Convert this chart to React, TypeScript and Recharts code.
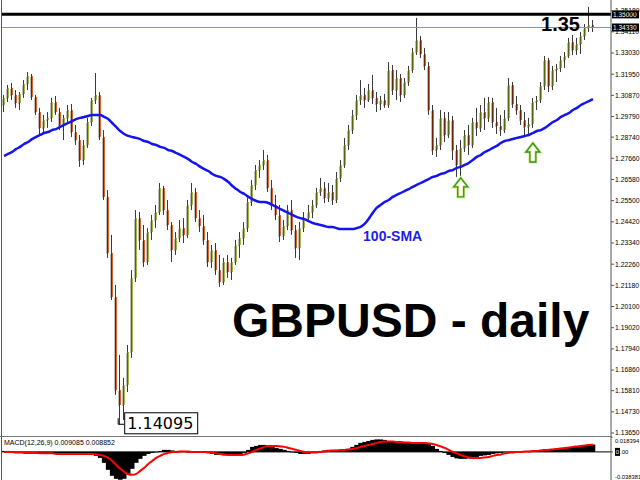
import { ComposedChart, Bar, Line, XAxis, YAxis, ReferenceLine, ReferenceDot } from 'recharts';

// GBPUSD daily candles
const opens = [
  1.3038, 1.3074, 1.3125, 1.3089, 1.3048, 1.3094, 1.3145, 1.3186, 1.3079, 1.3002,
  1.2921, 1.2961, 1.2972, 1.3053, 1.3002, 1.2936, 1.2972, 1.3012, 1.2900, 1.2859,
  1.2757, 1.2834, 1.2951, 1.3063, 1.3089, 1.2875, 1.2569, 1.2283, 1.2059, 1.1584,
  1.1508, 1.1610, 1.1778, 1.2156, 1.2461, 1.2349, 1.2237, 1.2390, 1.2451, 1.2492,
  1.2615, 1.2502, 1.2426, 1.2298, 1.2360, 1.2410, 1.2375, 1.2528, 1.2594, 1.2461,
  1.2421, 1.2349, 1.2237, 1.2298, 1.2196, 1.2135, 1.2237, 1.2186, 1.2237, 1.2324,
  1.2360, 1.2410, 1.2543, 1.2630, 1.2706, 1.2732, 1.2757, 1.2615, 1.2528, 1.2477,
  1.2370, 1.2421, 1.2502, 1.2400, 1.2309, 1.2410, 1.2461, 1.2492, 1.2528, 1.2594,
  1.2615, 1.2564, 1.2594, 1.2553, 1.2666, 1.2732, 1.2834, 1.2910, 1.2987, 1.3063,
  1.3089, 1.3063, 1.3114, 1.3074, 1.3043, 1.3063, 1.3038, 1.3216, 1.3114, 1.3176,
  1.3089, 1.3155, 1.3216, 1.3308, 1.3369, 1.3298, 1.3237, 1.3012, 1.2808, 1.2834,
  1.2972, 1.2885, 1.2961, 1.2808, 1.2732, 1.2819, 1.2885, 1.2834, 1.2951, 1.2921,
  1.3002, 1.2972, 1.3053, 1.2951, 1.2931, 1.2910, 1.2972, 1.3140, 1.3043, 1.3012,
  1.2961, 1.2926, 1.2941, 1.3053, 1.3063, 1.3135, 1.3267, 1.3135, 1.3216, 1.3227,
  1.3267, 1.3288, 1.3359, 1.3318, 1.3349, 1.3390, 1.3431, 1.3446,
];
const highs = [
  1.3089, 1.3140, 1.3150, 1.3114, 1.3104, 1.3165, 1.3206, 1.3196, 1.3089, 1.3023,
  1.2987, 1.3002, 1.3074, 1.3084, 1.3023, 1.2987, 1.3038, 1.3043, 1.2936, 1.2885,
  1.2859, 1.2972, 1.3074, 1.3201, 1.3104, 1.2910, 1.2604, 1.2375, 1.2120, 1.1763,
  1.1646, 1.1814, 1.2196, 1.2502, 1.2492, 1.2426, 1.2410, 1.2477, 1.2528, 1.2640,
  1.2625, 1.2553, 1.2441, 1.2390, 1.2451, 1.2461, 1.2553, 1.2640, 1.2615, 1.2502,
  1.2477, 1.2390, 1.2324, 1.2334, 1.2273, 1.2258, 1.2273, 1.2258, 1.2349, 1.2390,
  1.2441, 1.2564, 1.2655, 1.2732, 1.2757, 1.2808, 1.2783, 1.2655, 1.2579, 1.2528,
  1.2451, 1.2528, 1.2553, 1.2426, 1.2441, 1.2492, 1.2528, 1.2553, 1.2615, 1.2666,
  1.2645, 1.2640, 1.2630, 1.2696, 1.2757, 1.2870, 1.2936, 1.3012, 1.3089, 1.3165,
  1.3125, 1.3145, 1.3191, 1.3104, 1.3084, 1.3094, 1.3257, 1.3242, 1.3216, 1.3196,
  1.3176, 1.3237, 1.3329, 1.3482, 1.3390, 1.3329, 1.3257, 1.3038, 1.2870, 1.3012,
  1.3002, 1.3002, 1.2982, 1.2834, 1.2859, 1.2910, 1.2936, 1.2972, 1.3023, 1.3038,
  1.3074, 1.3079, 1.3074, 1.3023, 1.2987, 1.3012, 1.3176, 1.3155, 1.3084, 1.3038,
  1.3002, 1.2972, 1.3074, 1.3084, 1.3155, 1.3288, 1.3278, 1.3237, 1.3247, 1.3288,
  1.3308, 1.3380, 1.3395, 1.3380, 1.3410, 1.3451, 1.3538, 1.3471,
];
const lows = [
  1.3002, 1.3053, 1.3063, 1.3023, 1.3012, 1.3074, 1.3114, 1.3063, 1.2987, 1.2885,
  1.2900, 1.2921, 1.2951, 1.2987, 1.2910, 1.2859, 1.2951, 1.2875, 1.2834, 1.2722,
  1.2732, 1.2819, 1.2931, 1.3043, 1.2859, 1.2553, 1.2258, 1.2043, 1.1559, 1.14095,
  1.1431, 1.1574, 1.1748, 1.2135, 1.2298, 1.2212, 1.2222, 1.2349, 1.2410, 1.2477,
  1.2477, 1.2400, 1.2237, 1.2273, 1.2339, 1.2334, 1.2360, 1.2502, 1.2441, 1.2390,
  1.2324, 1.2212, 1.2207, 1.2171, 1.2110, 1.2120, 1.2156, 1.2145, 1.2222, 1.2258,
  1.2324, 1.2390, 1.2523, 1.2604, 1.2666, 1.2706, 1.2594, 1.2502, 1.2451, 1.2339,
  1.2349, 1.2400, 1.2375, 1.2258, 1.2247, 1.2390, 1.2441, 1.2461, 1.2513, 1.2574,
  1.2538, 1.2543, 1.2528, 1.2538, 1.2645, 1.2717, 1.2808, 1.2890, 1.2961, 1.3038,
  1.3023, 1.3053, 1.3043, 1.3002, 1.3012, 1.3023, 1.3023, 1.3089, 1.3063, 1.3053,
  1.3074, 1.3135, 1.3201, 1.3293, 1.3278, 1.3216, 1.2987, 1.2783, 1.2773, 1.2808,
  1.2849, 1.2870, 1.2757, 1.2671, 1.2666, 1.2798, 1.2783, 1.2819, 1.2880, 1.2900,
  1.2910, 1.2951, 1.2921, 1.2890, 1.2880, 1.2895, 1.2956, 1.3023, 1.2987, 1.2936,
  1.2875, 1.2885, 1.2921, 1.3012, 1.3048, 1.3114, 1.3104, 1.3114, 1.3155, 1.3206,
  1.3227, 1.3278, 1.3293, 1.3293, 1.3298, 1.3369, 1.3410, 1.3410,
];
const closes = [
  1.3074, 1.3125, 1.3089, 1.3048, 1.3094, 1.3145, 1.3186, 1.3079, 1.3002, 1.2921,
  1.2961, 1.2972, 1.3053, 1.3002, 1.2936, 1.2972, 1.3012, 1.2900, 1.2859, 1.2757,
  1.2834, 1.2951, 1.3063, 1.3089, 1.2875, 1.2569, 1.2283, 1.2059, 1.1584, 1.1508,
  1.1610, 1.1778, 1.2156, 1.2461, 1.2349, 1.2237, 1.2390, 1.2451, 1.2492, 1.2615,
  1.2502, 1.2426, 1.2298, 1.2360, 1.2410, 1.2375, 1.2528, 1.2594, 1.2461, 1.2421,
  1.2349, 1.2237, 1.2298, 1.2196, 1.2135, 1.2237, 1.2186, 1.2237, 1.2324, 1.2360,
  1.2410, 1.2543, 1.2630, 1.2706, 1.2732, 1.2757, 1.2615, 1.2528, 1.2477, 1.2370,
  1.2421, 1.2502, 1.2400, 1.2309, 1.2410, 1.2461, 1.2492, 1.2528, 1.2594, 1.2615,
  1.2564, 1.2594, 1.2553, 1.2666, 1.2732, 1.2834, 1.2910, 1.2987, 1.3063, 1.3089,
  1.3063, 1.3114, 1.3074, 1.3043, 1.3063, 1.3038, 1.3216, 1.3114, 1.3176, 1.3089,
  1.3155, 1.3216, 1.3308, 1.3369, 1.3298, 1.3237, 1.3012, 1.2808, 1.2834, 1.2972,
  1.2885, 1.2961, 1.2808, 1.2732, 1.2819, 1.2885, 1.2834, 1.2951, 1.2921, 1.3002,
  1.2972, 1.3053, 1.2951, 1.2931, 1.2910, 1.2972, 1.3140, 1.3043, 1.3012, 1.2961,
  1.2926, 1.2941, 1.3053, 1.3063, 1.3135, 1.3267, 1.3135, 1.3216, 1.3227, 1.3267,
  1.3288, 1.3359, 1.3318, 1.3349, 1.3390, 1.3431, 1.3446, 1.3433,
];
const sma100 = [
  1.2778, 1.2788, 1.2798, 1.2813, 1.2824, 1.2839, 1.2849, 1.2864, 1.2875, 1.2885,
  1.2895, 1.2900, 1.2910, 1.2915, 1.2926, 1.2936, 1.2946, 1.2956, 1.2966, 1.2972,
  1.2977, 1.2982, 1.2987, 1.2987, 1.2987, 1.2977, 1.2966, 1.2946, 1.2926, 1.2905,
  1.2890, 1.2880, 1.2875, 1.2870, 1.2864, 1.2854, 1.2849, 1.2839, 1.2834, 1.2824,
  1.2819, 1.2808, 1.2803, 1.2793, 1.2783, 1.2773, 1.2762, 1.2747, 1.2737, 1.2722,
  1.2711, 1.2701, 1.2686, 1.2676, 1.2671, 1.2660, 1.2645, 1.2625, 1.2609, 1.2594,
  1.2584, 1.2569, 1.2558, 1.2548, 1.2543, 1.2543, 1.2538, 1.2528, 1.2518, 1.2507,
  1.2497, 1.2487, 1.2477, 1.2467, 1.2461, 1.2456, 1.2446, 1.2436, 1.2431, 1.2426,
  1.2421, 1.2416, 1.2416, 1.2410, 1.2405, 1.2405, 1.2405, 1.2405, 1.2410, 1.2416,
  1.2431, 1.2456, 1.2487, 1.2513, 1.2528, 1.2543, 1.2553, 1.2569, 1.2579, 1.2589,
  1.2599, 1.2609, 1.2620, 1.2630, 1.2640, 1.2650, 1.2660, 1.2671, 1.2676, 1.2686,
  1.2691, 1.2701, 1.2706, 1.2717, 1.2722, 1.2732, 1.2742, 1.2757, 1.2773, 1.2783,
  1.2798, 1.2808, 1.2819, 1.2829, 1.2844, 1.2854, 1.2859, 1.2864, 1.2870, 1.2875,
  1.2880, 1.2885, 1.2895, 1.2905, 1.2910, 1.2921, 1.2936, 1.2951, 1.2961, 1.2977,
  1.2987, 1.2997, 1.3012, 1.3023, 1.3038, 1.3048, 1.3058, 1.3068,
];

// MACD(12,26,9): main (histogram) and signal
const macdMain = [
  0.0012, 0.0012, 0.0006, 0, -0.0006, -0.0012, -0.0012, -0.0018, -0.0018, -0.0025,
  -0.0025, -0.0025, -0.0025, -0.0025, -0.0025, -0.0025, -0.0025, -0.0025, -0.0025, -0.0025,
  -0.0031, -0.0031, -0.0037, -0.0049, -0.0074, -0.0135, -0.0221, -0.0295, -0.0332, -0.0344,
  -0.0332, -0.0271, -0.0209, -0.0135, -0.0086, -0.0049, -0.0025, -0.0012, 0, 0.0012,
  0.0025, 0.0025, 0.0018, 0.0012, 0.0012, 0.0006, 0, 0.0006, 0, 0,
  -0.0006, -0.0012, -0.0025, -0.0037, -0.0037, -0.0043, -0.0043, -0.0037, -0.0037, -0.0025,
  -0.0012, 0.0025, 0.0062, 0.0074, 0.0086, 0.0086, 0.0074, 0.0062, 0.0049, 0.0037,
  0.0025, 0.0012, 0, -0.0012, -0.0025, -0.0025, -0.0025, -0.0012, 0, 0.0012,
  0.0018, 0.0025, 0.0025, 0.0025, 0.0025, 0.0031, 0.0037, 0.0062, 0.0086, 0.0111,
  0.0123, 0.0135, 0.0148, 0.0154, 0.0154, 0.0148, 0.0135, 0.0123, 0.0123, 0.0111,
  0.0111, 0.0111, 0.0111, 0.0111, 0.0111, 0.0105, 0.0098, 0.0074, 0.0037, 0.0012,
  -0.0012, -0.0037, -0.0062, -0.0080, -0.0086, -0.0086, -0.0080, -0.0074, -0.0062, -0.0049,
  -0.0043, -0.0037, -0.0025, -0.0018, -0.0012, -0.0006, 0, 0, 0.0006, 0.0006,
  0.0006, 0.0012, 0.0012, 0.0018, 0.0025, 0.0031, 0.0037, 0.0037, 0.0043, 0.0049,
  0.0049, 0.0055, 0.0062, 0.0062, 0.0074, 0.0080, 0.0086, 0.0091,
];
const macdSignal = [
  0, 0, 0, -0.0006, -0.0006, -0.0012, -0.0012, -0.0012, -0.0012, -0.0018,
  -0.0018, -0.0018, -0.0018, -0.0025, -0.0025, -0.0025, -0.0025, -0.0025, -0.0025, -0.0025,
  -0.0025, -0.0025, -0.0025, -0.0031, -0.0037, -0.0049, -0.0074, -0.0111, -0.0160, -0.0209,
  -0.0246, -0.0277, -0.0283, -0.0271, -0.0234, -0.0197, -0.0148, -0.0111, -0.0074, -0.0049,
  -0.0025, -0.0012, 0, 0, 0.0006, 0.0006, 0.0006, 0, 0, 0,
  0, -0.0006, -0.0012, -0.0018, -0.0025, -0.0031, -0.0037, -0.0037, -0.0037, -0.0037,
  -0.0031, -0.0018, 0, 0.0025, 0.0043, 0.0062, 0.0074, 0.0074, 0.0074, 0.0068,
  0.0062, 0.0049, 0.0037, 0.0025, 0.0012, 0, -0.0006, -0.0006, -0.0006, 0,
  0.0006, 0.0012, 0.0018, 0.0018, 0.0025, 0.0025, 0.0031, 0.0037, 0.0049, 0.0062,
  0.0074, 0.0086, 0.0098, 0.0111, 0.0123, 0.0129, 0.0129, 0.0129, 0.0123, 0.0123,
  0.0117, 0.0117, 0.0111, 0.0111, 0.0111, 0.0111, 0.0105, 0.0098, 0.0086, 0.0068,
  0.0049, 0.0025, 0, -0.0018, -0.0037, -0.0055, -0.0068, -0.0074, -0.0074, -0.0074,
  -0.0068, -0.0062, -0.0049, -0.0037, -0.0031, -0.0018, -0.0012, -0.0006, 0, 0,
  0.0006, 0.0006, 0.0012, 0.0012, 0.0018, 0.0025, 0.0025, 0.0031, 0.0037, 0.0043,
  0.0049, 0.0055, 0.0062, 0.0068, 0.0074, 0.0080, 0.0086, 0.0089,
];

const priceTicks = [
  1.3518, 1.3411, 1.3303, 1.3195, 1.3087, 1.2979, 1.2874, 1.2766, 1.2658, 1.255, 1.2442,
  1.2334, 1.2226, 1.2118, 1.201, 1.1902, 1.1794, 1.1686, 1.1581, 1.1473, 1.1365,
];
const macdTicks = [0.018394, 0, -0.038381];

const resistance = 1.35;
const lastPrice = 1.3433;
const swingLowIdx = 29;
const swingLow = 1.14095;
const arrowIdx = [114, 132];
const arrowPrice = [1.2666, 1.2844];
const smaLabelIdx = 97;
const smaLabelPrice = 1.237;
const chartShift = 4; // empty slots right of last bar

const total = opens.length + chartShift;
const rows = Array.from({ length: total }, (_, i) =>
  i < opens.length
    ? { i, o: opens[i], h: highs[i], l: lows[i], c: closes[i], range: [lows[i], highs[i]], sma: sma100[i] }
    : { i }
);
const macdRows = Array.from({ length: total }, (_, i) =>
  i < macdMain.length ? { i, macd: macdMain[i], signal: macdSignal[i] } : { i }
);

const axisFont = "'Liberation Sans', Arial, sans-serif";

function Candle(props: any) {
  const { x, y, width, height, payload } = props;
  if (!payload || payload.o == null) return null;
  const top = Math.min(y, y + height);
  const h = Math.abs(height);
  const span = payload.h - payload.l || 1;
  const py = (p: number) => top + ((payload.h - p) / span) * h;
  const cx = Math.round(x + width / 2);
  const bull = payload.c >= payload.o;
  const yo = py(payload.o);
  const yc = py(payload.c);
  const bt = Math.min(yo, yc);
  const bh = Math.max(1, Math.abs(yo - yc));
  return (
    <g>
      <rect x={cx - 2} y={bt + 1} width={1} height={bh} fill="#bdbdbd" />
      <line x1={cx - 0.5} x2={cx - 0.5} y1={top} y2={top + h} stroke="#3a3a3a" strokeWidth={1} />
      <rect x={cx - 1} y={bt} width={1} height={bh} fill={bull ? '#56650f' : '#6a2208'} />
      <rect x={cx} y={bt} width={1} height={bh} fill={bull ? '#a3b443' : '#d9642b'} />
    </g>
  );
}

// solid MT4-style histogram column, widened so neighbours touch
function HistBar(props: any) {
  const { x, y, width, height } = props;
  if (height == null || isNaN(height)) return null;
  const cx = x + width / 2;
  const top = Math.min(y, y + height);
  return <rect x={cx - 2.3} y={top} width={4.6} height={Math.max(Math.abs(height), 0.5)} fill="#000" />;
}

function ResistanceTag(props: any) {
  const { x, y, width } = props.viewBox;
  const right = x + width;
  return (
    <g>
      <text x={right - 31} y={y + 17} textAnchor="end" fontFamily={axisFont} fontWeight="bold" fontSize={20} fill="#000">
        1.35
      </text>
      <rect x={right + 1} y={y - 4} width={27} height={8} fill="#000" />
      <text x={right + 2} y={y + 2.5} fontFamily={axisFont} fontSize={6.5} fill="#fff">1.35000</text>
    </g>
  );
}

function BidTag(props: any) {
  const { x, y, width } = props.viewBox;
  const right = x + width;
  return (
    <g>
      <rect x={right + 1} y={y - 4} width={27} height={8} fill="#000" />
      <text x={right + 2} y={y + 2.5} fontFamily={axisFont} fontSize={6.5} fill="#fff">1.34330</text>
    </g>
  );
}

function LowTag(props: any) {
  const { cx, cy } = props;
  return (
    <g>
      <polyline points={`${cx - 2},${cy - 6} ${cx - 2},${cy} ${cx + 4},${cy}`} fill="none" stroke="#000" strokeWidth={1} />
      <rect x={cx + 4.5} y={cy - 11.5} width={73} height={21} fill="#fff" stroke="#000" strokeWidth={1} />
      <text x={cx + 7} y={cy + 5} fontFamily="'DejaVu Sans', sans-serif" fontSize={16} fill="#000">1.14095</text>
    </g>
  );
}

function UpArrow(props: any) {
  const { cx, cy } = props;
  const d = `M${cx},${cy} L${cx + 7},${cy + 9} L${cx + 3},${cy + 9} L${cx + 3},${cy + 19} L${cx - 3},${cy + 19} L${cx - 3},${cy + 9} L${cx - 7},${cy + 9} Z`;
  return (
    <g>
      <path d={d} fill="#fff" stroke="#e2e88c" strokeWidth={3} strokeLinejoin="miter" />
      <path d={d} fill="none" stroke="#23962a" strokeWidth={1.3} strokeLinejoin="miter" />
    </g>
  );
}

function SmaLabel(props: any) {
  const { cx, cy } = props;
  return (
    <text x={cx} y={cy + 5} textAnchor="middle" fontFamily={axisFont} fontWeight="bold" fontSize={14} fill="#1e1ee6">
      100-SMA
    </text>
  );
}

function MacdTick(props: any) {
  const { x, y, payload } = props;
  const v = payload.value;
  if (v === 0) {
    return (
      <g>
        <rect x={x} y={y - 4} width={5} height={8} fill="#000" />
        <text x={x + 0.8} y={y + 2.5} fontFamily={axisFont} fontSize={6} fill="#fff">0</text>
        <text x={x + 5} y={y + 2.5} fontFamily={axisFont} fontSize={6} fill="#000">.00</text>
      </g>
    );
  }
  const dy = v > 0 ? 6 : -4.5;
  return (
    <text x={x} y={y + dy} fontFamily={axisFont} fontSize={5.8} fill="#000">
      {v.toFixed(6)}
    </text>
  );
}

export default function App() {
  return (
    <div style={{ position: 'fixed', left: 0, top: 0, width: 640, height: 480, overflow: 'hidden', background: '#fff' }}>
      {/* price window */}
      <div style={{ position: 'absolute', left: 0, top: 0 }}>
        <ComposedChart width={640} height={436} data={rows} margin={{ top: 0, right: 0, bottom: 0, left: 2 }} barCategoryGap={0} barGap={0}>
          <XAxis dataKey="i" hide />
          <YAxis
            orientation="right"
            type="number"
            domain={[1.13497, 1.35733]}
            allowDataOverflow
            ticks={priceTicks}
            interval={0}
            width={29}
            tickSize={3}
            tickMargin={1}
            tickFormatter={(v: number) => v.toFixed(5)}
            tick={{ fontSize: 6.8, fill: '#000', fontFamily: axisFont }}
            axisLine={{ stroke: '#555' }}
            tickLine={{ stroke: '#555' }}
          />
          <Bar dataKey="range" shape={<Candle />} isAnimationActive={false} />
          <Line type="monotone" dataKey="sma" stroke="#1414f0" strokeWidth={2.5} dot={false} isAnimationActive={false} />
          <ReferenceLine y={lastPrice} stroke="#8a8ad0" strokeWidth={1} label={<BidTag />} />
          <ReferenceLine y={resistance} stroke="#000" strokeWidth={3} label={<ResistanceTag />} />
          <ReferenceDot x={swingLowIdx} y={swingLow} r={0} shape={<LowTag />} />
          {arrowIdx.map((ix, k) => (
            <ReferenceDot key={ix} x={ix} y={arrowPrice[k]} r={0} shape={<UpArrow />} />
          ))}
          <ReferenceDot x={smaLabelIdx} y={smaLabelPrice} r={0} shape={<SmaLabel />} />
        </ComposedChart>
      </div>

      {/* MACD window */}
      <div style={{ position: 'absolute', left: 0, top: 437 }}>
        <ComposedChart width={640} height={46} data={macdRows} margin={{ top: 0, right: 0, bottom: 0, left: 2 }} barCategoryGap={0} barGap={0}>
          <XAxis dataKey="i" hide />
          <YAxis
            orientation="right"
            type="number"
            domain={[-0.038381, 0.018394]}
            allowDataOverflow
            ticks={macdTicks}
            interval={0}
            width={29}
            tickSize={2}
            tick={<MacdTick />}
            axisLine={{ stroke: '#555' }}
            tickLine={{ stroke: '#555' }}
          />
          <Bar dataKey="macd" shape={<HistBar />} isAnimationActive={false} />
          <ReferenceLine y={0} stroke="#000" strokeWidth={1} />
          <Line type="monotone" dataKey="signal" stroke="#ff0000" strokeWidth={2} dot={false} isAnimationActive={false} />
        </ComposedChart>
      </div>

      {/* frame lines */}
      <div style={{ position: 'absolute', left: 1, top: 0, width: 1, height: 480, background: '#555' }} />
      <div style={{ position: 'absolute', left: 0, top: 436, width: 612, height: 1, background: '#777' }} />

      <div style={{ position: 'absolute', left: 4, top: 439, fontFamily: axisFont, fontSize: 7, color: '#000', whiteSpace: 'nowrap', lineHeight: 1 }}>
        MACD(12,26,9) 0.009085 0.008852
      </div>

      <svg width={640} height={480} style={{ position: 'absolute', left: 0, top: 0, pointerEvents: 'none' }}>
        <text x={232} y={337} fontFamily={axisFont} fontWeight="bold" fontSize={48} fill="#000">
          GBPUSD - daily
        </text>
      </svg>
    </div>
  );
}
